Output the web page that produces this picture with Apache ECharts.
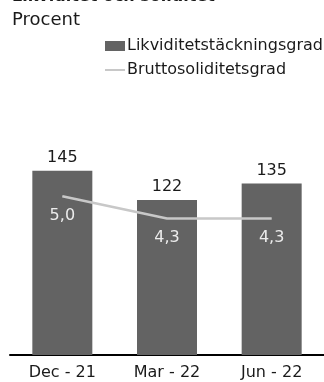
<!DOCTYPE html>
<html><head><meta charset="utf-8">
<script src="https://cdn.jsdelivr.net/npm/echarts@6/dist/echarts.min.js"></script>
<style>html,body{margin:0;padding:0;background:#fff}#c{width:324px;height:382px}</style>
</head><body><div id="c"></div>
<script>
var categories = ['Dec - 21', 'Mar - 22', 'Jun - 22'];
var likviditet = [145, 122, 135];
var soliditet = [5.0, 4.3, 4.3];
var seriesNames = ['Likviditetstäckningsgrad', 'Bruttosoliditetsgrad'];
var titleText = 'Likviditet och soliditet';
var subtitleText = 'Procent';

var FONT = 'DejaVu Sans';
var chart = echarts.init(document.getElementById('c'), null, {renderer: 'canvas'});
chart.setOption({
  animation: false,
  backgroundColor: '#fff',
  textStyle: {fontFamily: FONT},
  title: [
    {text: titleText, left: 12, top: -11, padding: 0, textStyle: {fontFamily: FONT, fontSize: 16, fontWeight: 'bold', color: '#1a1a1a'}},
    {text: subtitleText, left: 12, top: 11, padding: 0, textStyle: {fontFamily: FONT, fontSize: 18, fontWeight: 'normal', color: '#1a1a1a'}}
  ],
  legend: {
    orient: 'vertical', left: 105, top: 38, itemGap: 8, itemWidth: 20, itemHeight: 10, padding: 0,
    textStyle: {fontFamily: FONT, fontSize: 16, color: '#1a1a1a', padding: [0, 0, 0, -3]},
    data: [
      {name: seriesNames[0], icon: 'rect'},
      {name: seriesNames[1], icon: 'path://M0,0L20,0L20,2L0,2Z', itemStyle: {color: '#c8c8c8', opacity: 1}}
    ]
  },
  grid: {left: 10, right: -10, top: 101, bottom: 27, containLabel: false},
  xAxis: {
    type: 'category', data: categories,
    axisLine: {lineStyle: {color: '#000', width: 2}},
    axisTick: {show: false},
    axisLabel: {fontFamily: FONT, fontSize: 16, color: '#1a1a1a', margin: 10}
  },
  yAxis: [
    {type: 'value', min: 0, max: 200, show: false, splitLine: {show: false}},
    {type: 'value', min: 0, max: 8, show: false, splitLine: {show: false}}
  ],
  series: [
    {
      name: seriesNames[0], type: 'bar', data: likviditet, barWidth: 60, yAxisIndex: 0,
      itemStyle: {color: '#636363'},
      label: {show: true, position: 'top', distance: 5, fontFamily: FONT, fontSize: 16, color: '#1a1a1a'}
    },
    {
      name: seriesNames[1], type: 'line', data: soliditet, yAxisIndex: 1,
      symbol: 'circle', symbolSize: 0.5, showSymbol: true,
      lineStyle: {color: '#c8c8c8', width: 2.5}, itemStyle: {color: '#c8c8c8'},
      label: {show: true, position: 'bottom', distance: 11, fontFamily: FONT, fontSize: 16, color: '#ececec',
        formatter: function (p) { return p.value.toFixed(1).replace('.', ','); }},
      labelLayout: {hideOverlap: false},
      z: 5
    }
  ]
});
</script></body></html>
